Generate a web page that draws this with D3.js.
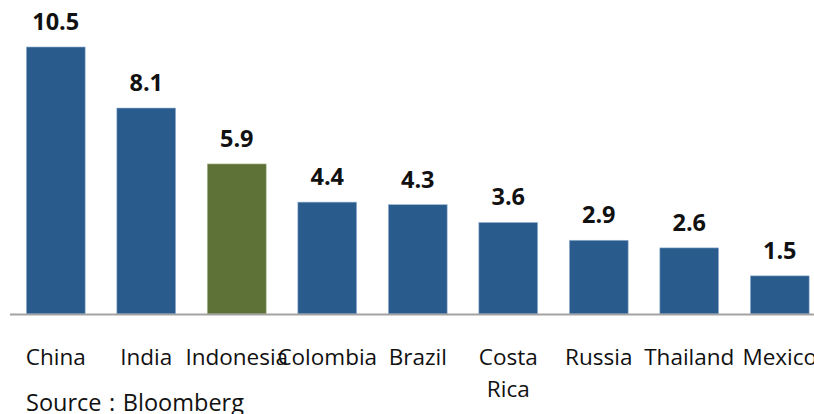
<!DOCTYPE html>
<html>
<head>
<meta charset="utf-8">
<script src="https://cdn.jsdelivr.net/npm/d3@7"></script>
<style>
  html, body { margin: 0; padding: 0; background: #fff; overflow: hidden; }
  svg { display: block; }
  text { font-family: "Open Sans", Lato, sans-serif; fill: #111; }
</style>
</head>
<body>
<svg id="chart" width="814" height="414"></svg>
<script>
// Data
const countries = ["China", "India", "Indonesia", "Colombia", "Brazil", "Costa Rica", "Russia", "Thailand", "Mexico"];
const values = [10.5, 8.1, 5.9, 4.4, 4.3, 3.6, 2.9, 2.6, 1.5];
const highlight = ["Indonesia"];
const sourceNote = "Source : Bloomberg";

const W = 814, H = 414;
const baseY = 314;
const svg = d3.select("#chart");

const x = d3.scaleBand()
  .domain(countries)
  .range([10.5, 825])
  .paddingInner(0.35)
  .paddingOuter(0.175);

const y = d3.scaleLinear()
  .domain([0, 12])
  .range([baseY, baseY - 12 * 25.43]);

const rows = countries.map((c, i) => ({ name: c, value: values[i] }));

// Bars
svg.append("g")
  .selectAll("rect")
  .data(rows)
  .join("rect")
  .attr("x", d => x(d.name))
  .attr("y", d => y(d.value))
  .attr("width", x.bandwidth())
  .attr("height", d => y(0) - y(d.value))
  .attr("fill", d => highlight.includes(d.name) ? "#5E7137" : "#295B8D")
  .attr("stroke", d => highlight.includes(d.name) ? "#A9B88E" : "#9DB8D6")
  .attr("stroke-width", 0.6);

// Value labels
svg.append("g")
  .selectAll("text")
  .data(rows)
  .join("text")
  .attr("x", d => x(d.name) + x.bandwidth() / 2)
  .attr("y", d => y(d.value) - 17)
  .attr("text-anchor", "middle")
  .attr("font-weight", "bold")
  .attr("font-size", 23.5)
  .text(d => d3.format(".1f")(d.value));

// Axis baseline
svg.append("line")
  .attr("x1", 10).attr("x2", W)
  .attr("y1", baseY + 0.5).attr("y2", baseY + 0.5)
  .attr("stroke", "#A3A3A3")
  .attr("stroke-width", 2);

// Category labels (wrap two-word names)
const cat = svg.append("g")
  .selectAll("text")
  .data(countries)
  .join("text")
  .attr("x", d => x(d) + x.bandwidth() / 2)
  .attr("y", 365)
  .attr("text-anchor", "middle")
  .attr("font-size", 22.5);
cat.each(function (d) {
  const words = d.split(" ");
  const t = d3.select(this);
  const cx = x(d) + x.bandwidth() / 2;
  words.forEach((w, i) => {
    t.append("tspan").attr("x", cx).attr("dy", i === 0 ? 0 : 32).text(w);
  });
});

// Source note
svg.append("text")
  .attr("x", 26)
  .attr("y", 411)
  .attr("font-size", 23.5)
  .attr("word-spacing", 1.5)
  .text(sourceNote);
</script>
</body>
</html>
